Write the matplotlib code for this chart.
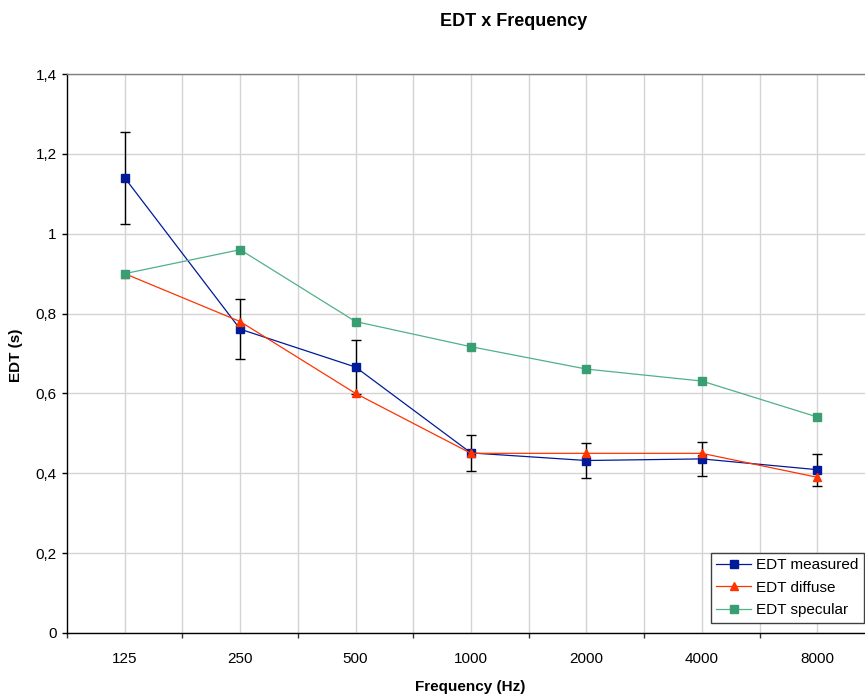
import matplotlib
matplotlib.use("Agg")
import matplotlib.pyplot as plt
import numpy as np

plt.rcParams['font.family'] = ['Liberation Sans', 'DejaVu Sans']

categories = ['125', '250', '500', '1000', '2000', '4000', '8000']
edt_measured = [1.14, 0.761, 0.666, 0.451, 0.432, 0.436, 0.409]
edt_measured_err = [0.115, 0.075, 0.067, 0.045, 0.043, 0.043, 0.040]
edt_diffuse = [0.90, 0.78, 0.60, 0.45, 0.45, 0.45, 0.39]
edt_specular = [0.90, 0.96, 0.78, 0.717, 0.661, 0.631, 0.541]
y_ticks = [0, 0.2, 0.4, 0.6, 0.8, 1.0, 1.2, 1.4]
y_tick_labels = ['0', '0,2', '0,4', '0,6', '0,8', '1', '1,2', '1,4']

W, H = 865, 695
fig = plt.figure(figsize=(W / 100, H / 100), dpi=100)
left, right, top, bottom = 67, 875, 74, 633
ax = fig.add_axes([left / W, 1 - bottom / H, (right - left) / W, (bottom - top) / H])

x = np.arange(len(categories))

ax.errorbar(x, edt_measured, yerr=edt_measured_err, fmt='none', ecolor='black',
            elinewidth=1.0, capsize=3.4, capthick=1.0, zorder=3)
ax.plot(x, edt_measured, color='#001a99', lw=0.9, marker='s', ms=5.5,
        mfc='#001a99', mec='#001a99', label='EDT measured', zorder=4)
ax.plot(x, edt_diffuse, color='#ff3300', lw=0.9, marker='^', ms=6,
        mfc='#ff3300', mec='#ff3300', label='EDT diffuse', zorder=5)
ax.plot(x, edt_specular, color='#52b088', lw=0.9, marker='s', ms=5.5,
        mfc='#3a9e73', mec='#3a9e73', label='EDT specular', zorder=6)

ax.set_xlim(-0.5, len(categories) - 0.5)
ax.set_ylim(0, 1.4)
ax.set_yticks(y_ticks)
ax.set_yticklabels(y_tick_labels, fontsize=11)
ax.set_xticks(x)
ax.set_xticklabels(categories, fontsize=11)
ax.set_xticks(np.arange(-0.5, len(categories), 1.0), minor=True)
ax.tick_params(axis='x', which='major', length=0, pad=14)
ax.tick_params(axis='x', which='minor', length=3.5, direction='out', width=1, color='#333333')
ax.tick_params(axis='y', which='major', length=3.5, direction='out', width=1, pad=4)

# gridlines at both category centers and boundaries
for gx in np.arange(-0.5, len(categories), 0.5):
    if gx > -0.5:
        ax.axvline(gx, color='#d4d4d4', lw=1.0, zorder=0)
ax.yaxis.grid(True, color='#d4d4d4', lw=1.0, zorder=0)
ax.set_axisbelow(True)

ax.spines['left'].set_color('black')
ax.spines['bottom'].set_color('black')
ax.spines['left'].set_linewidth(1.0)
ax.spines['bottom'].set_linewidth(1.0)
ax.spines['top'].set_color('#808080')
ax.spines['top'].set_linewidth(1.0)
ax.spines['right'].set_visible(False)

fig.text(514 / W, 1 - 21 / H, 'EDT x Frequency', ha='center', va='center',
         fontsize=13, fontweight='bold')
fig.text(470 / W, 1 - 687 / H, 'Frequency (Hz)', ha='center', va='center',
         fontsize=11, fontweight='bold')
fig.text(16 / W, 1 - 355 / H, 'EDT (s)', ha='center', va='center',
         fontsize=11, fontweight='bold', rotation=90)

leg = ax.legend(loc='upper left', bbox_to_anchor=(711 / W, 1 - 553 / H),
                bbox_transform=fig.transFigure, fontsize=11, frameon=True,
                fancybox=False, framealpha=1, edgecolor='#404040',
                borderpad=0.35, labelspacing=0.55, handlelength=2.3,
                handletextpad=0.3, borderaxespad=0)
leg.get_frame().set_linewidth(1.0)

fig.savefig('out.png', dpi=100)
